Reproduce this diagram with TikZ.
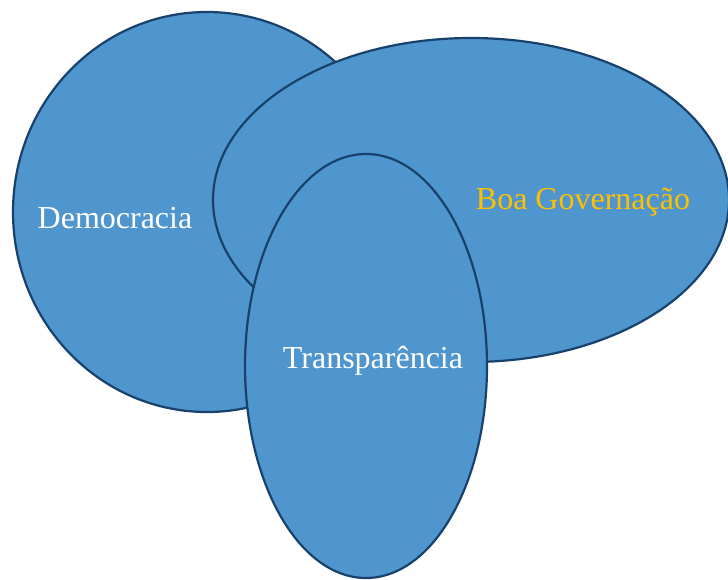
\documentclass[tikz,border=0pt]{standalone}
\usepackage{fontspec}
\setmainfont{Liberation Serif}
\usepackage{tikz}
\usepackage{xcolor}
\definecolor{bubblefill}{RGB}{79,149,206}
\definecolor{bubbleline}{RGB}{24,66,108}
\definecolor{gold}{RGB}{255,192,0}
\tikzset{
  bubble/.style={fill=bubblefill,draw=bubbleline,line width=2.2pt},
  label/.style={anchor=base,font=\fontsize{32}{38}\selectfont}
}

\begin{document}
\begin{tikzpicture}[x=1pt,y=-1pt]
      \useasboundingbox (0,0) rectangle (728,579);
      \draw [bubble] (207,212) ellipse (194 and 200);
      \draw [bubble] (471,200) ellipse (258 and 162);
      \draw [bubble] (366,366) ellipse (121 and 212);
      \node [label,white] (democracia) at (115,228) {Democracia};
      \node [label,gold] (governacao) at (583,209) {Boa Governação};
      \node [label,white] (transparencia) at (373,368) {Transparência};
    \end{tikzpicture}
\end{document}
